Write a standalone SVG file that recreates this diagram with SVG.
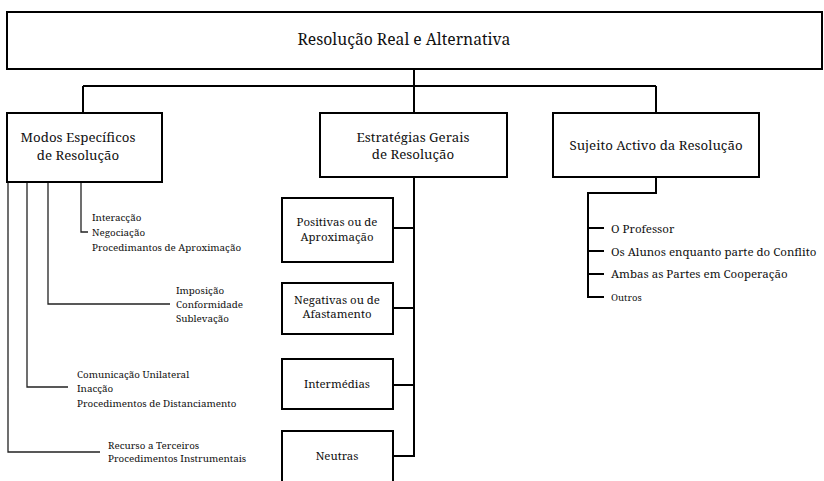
<svg xmlns="http://www.w3.org/2000/svg" width="824" height="481" viewBox="0 0 824 481">
<style>
.box{fill:#fff;stroke:#000;stroke-width:2}
.ln{fill:none;stroke:#000;stroke-width:2}
.thin{fill:none;stroke:#222;stroke-width:1.3}
text{font-family:'Noto Serif','DejaVu Serif',serif;fill:#111}
.t1{font-size:15.7px;text-anchor:middle}
.t2{font-size:13.3px;text-anchor:middle}
.t3{font-size:11.4px;text-anchor:middle}
.s{font-size:9.8px}
.r{font-size:11.5px}
.o{font-size:9.5px}
</style>
<rect width="824" height="481" fill="#fff"/>
<g id="connectors">
<path class="ln" d="M414 69V86M83 86H656M83 86V113M414 86V113M656 86V113"/>
<path class="ln" d="M414 177V457M393 228H414M393 308H414M393 385H414M393 456H414"/>
<path class="ln" d="M656 177V193H588V297H604M588 228H604M588 251H604M588 274H604"/>
<path class="thin" d="M81 182V232H88M48 182V304H170M27 182V387H68M8 182V452H100"/>
</g>
<g id="root"><rect class="box" x="7" y="12" width="815" height="57"/><text class="t1" x="404" y="45">Resolução Real e Alternativa</text></g>
<g id="modos"><rect class="box" x="7" y="113" width="155" height="69"/><text class="t2" x="78" y="142">Modos Específicos</text><text class="t2" x="78" y="160">de Resolução</text></g>
<g id="estrategias"><rect class="box" x="320" y="113" width="187" height="64"/><text class="t2" x="413" y="142">Estratégias Gerais</text><text class="t2" x="413" y="159">de Resolução</text></g>
<g id="sujeito"><rect class="box" x="553" y="113" width="206" height="64"/><text class="t2" x="656" y="150">Sujeito Activo da Resolução</text></g>
<g id="positivas"><rect class="box" x="282" y="198" width="111" height="64"/><text class="t3" x="337" y="226">Positivas ou de</text><text class="t3" x="337" y="241">Aproximação</text></g>
<g id="negativas"><rect class="box" x="282" y="283" width="111" height="51"/><text class="t3" x="337" y="304">Negativas ou de</text><text class="t3" x="337" y="318">Afastamento</text></g>
<g id="intermedias"><rect class="box" x="282" y="359" width="111" height="50"/><text class="t3" x="337" y="388">Intermédias</text></g>
<g id="neutras"><rect class="box" x="282" y="431" width="111" height="60"/><text class="t3" x="337" y="460">Neutras</text></g>
<g id="modos-list1"><text class="s" x="92" y="221">Interacção</text><text class="s" x="92" y="236">Negociação</text><text class="s" x="92" y="251">Procedimantos de Aproximação</text></g>
<g id="modos-list2"><text class="s" x="176" y="294">Imposição</text><text class="s" x="176" y="308">Conformidade</text><text class="s" x="176" y="322">Sublevação</text></g>
<g id="modos-list3"><text class="s" x="77" y="378">Comunicação Unilateral</text><text class="s" x="77" y="392">Inacção</text><text class="s" x="77" y="407">Procedimentos de Distanciamento</text></g>
<g id="modos-list4"><text class="s" x="108" y="449">Recurso a Terceiros</text><text class="s" x="108" y="462">Procedimentos Instrumentais</text></g>
<g id="sujeito-list"><text class="r" x="611" y="233">O Professor</text><text class="r" x="611" y="256">Os Alunos enquanto parte do Conflito</text><text class="r" x="611" y="278">Ambas as Partes em Cooperação</text><text class="o" x="611" y="301">Outros</text></g>
</svg>
